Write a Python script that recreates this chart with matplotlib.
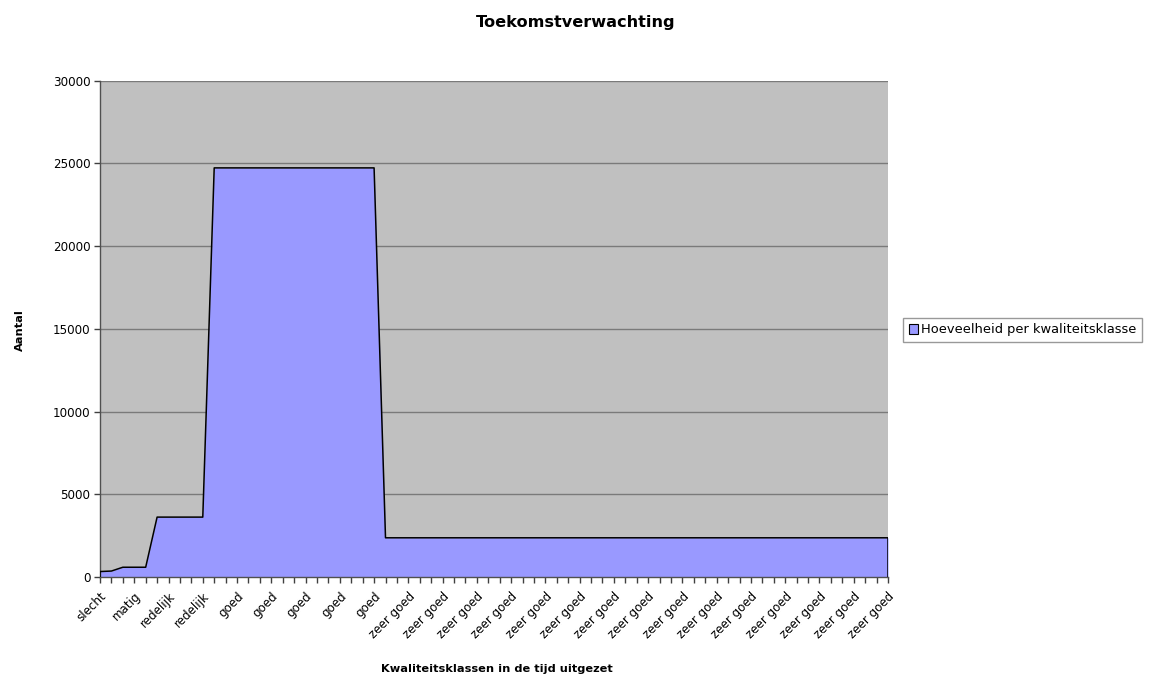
import matplotlib
matplotlib.use('Agg')
import matplotlib.pyplot as plt
from matplotlib.patches import Patch

# kwaliteitsklasse per tijdstap
klassen = (['slecht'] * 2 + ['matig'] * 3 + ['redelijk'] * 5 +
           ['goed'] * 15 + ['zeer goed'] * 45)
aantal = [330, 360, 590, 590, 590,
          3620, 3620, 3620, 3620, 3620,
          24730, 24730, 24730, 24730, 24730, 24730, 24730, 24730,
          24730, 24730, 24730, 24730, 24730, 24730, 24730,
          2370, 2370, 2370, 2370, 2370, 2370, 2370, 2370, 2370, 2370,
          2370, 2370, 2370, 2370, 2370, 2370, 2370, 2370, 2370, 2370,
          2370, 2370, 2370, 2370, 2370, 2370, 2370, 2370, 2370, 2370,
          2370, 2370, 2370, 2370, 2370, 2370, 2370, 2370, 2370, 2370,
          2370, 2370, 2370, 2370, 2370]
yticks = [0, 5000, 10000, 15000, 20000, 25000, 30000]
label_stap = 3

W, H = 1151, 681
fig = plt.figure(figsize=(W / 100, H / 100), dpi=100)
ax = fig.add_axes([100 / W, 1 - 577 / H, 788 / W, (577 - 80.7) / H])
ax.set_facecolor('#C0C0C0')

x = list(range(len(aantal)))
ax.fill_between(x, aantal, 0, color='#9999FF', linewidth=0, zorder=2)
ax.plot([x[0]] + x + [x[-1]], [0] + aantal + [0], color='black', lw=1.1, zorder=3)

ax.set_xlim(x[0], x[-1])
ax.set_ylim(0, 30000)
ax.set_yticks(yticks)
ax.set_yticklabels([str(v) for v in yticks])
ax.yaxis.grid(True, color='#7a7a7a', lw=1)
ax.set_axisbelow(True)

ax.set_xticks(x)
ax.set_xticklabels([k if i % label_stap == 0 else '' for i, k in enumerate(klassen)],
                   rotation=45, ha='right', rotation_mode='anchor')
ax.tick_params(axis='both', direction='out', length=4, width=1, colors='#404040',
               labelcolor='black', labelsize=8.6, pad=3)
ax.tick_params(axis='x', pad=5)

for s in ['top', 'right']:
    ax.spines[s].set_visible(False)
for s in ['left', 'bottom']:
    ax.spines[s].set_color('#505050')
    ax.spines[s].set_linewidth(1)

fig.text(0.5, 1 - 22 / H, 'Toekomstverwachting', ha='center', va='center',
         fontsize=11.6, fontweight='bold')
fig.text(497 / W, 1 - 669 / H, 'Kwaliteitsklassen in de tijd uitgezet',
         ha='center', va='center', fontsize=8.2, fontweight='bold')
fig.text(20 / W, 1 - 330 / H, 'Aantal', ha='center', va='center', rotation=90,
         fontsize=8.2, fontweight='bold')

handle = Patch(facecolor='#9999FF', edgecolor='black', lw=0.8)
fig.legend([handle], ['Hoeveelheid per kwaliteitsklasse'], loc='center left',
           bbox_to_anchor=(903 / W, 1 - 330 / H), fontsize=9.4, frameon=True,
           fancybox=False, edgecolor='#808080', handlelength=0.7, handleheight=0.7,
           handletextpad=0.2, borderpad=0.45, borderaxespad=0)

fig.savefig('out.png', dpi=100)
